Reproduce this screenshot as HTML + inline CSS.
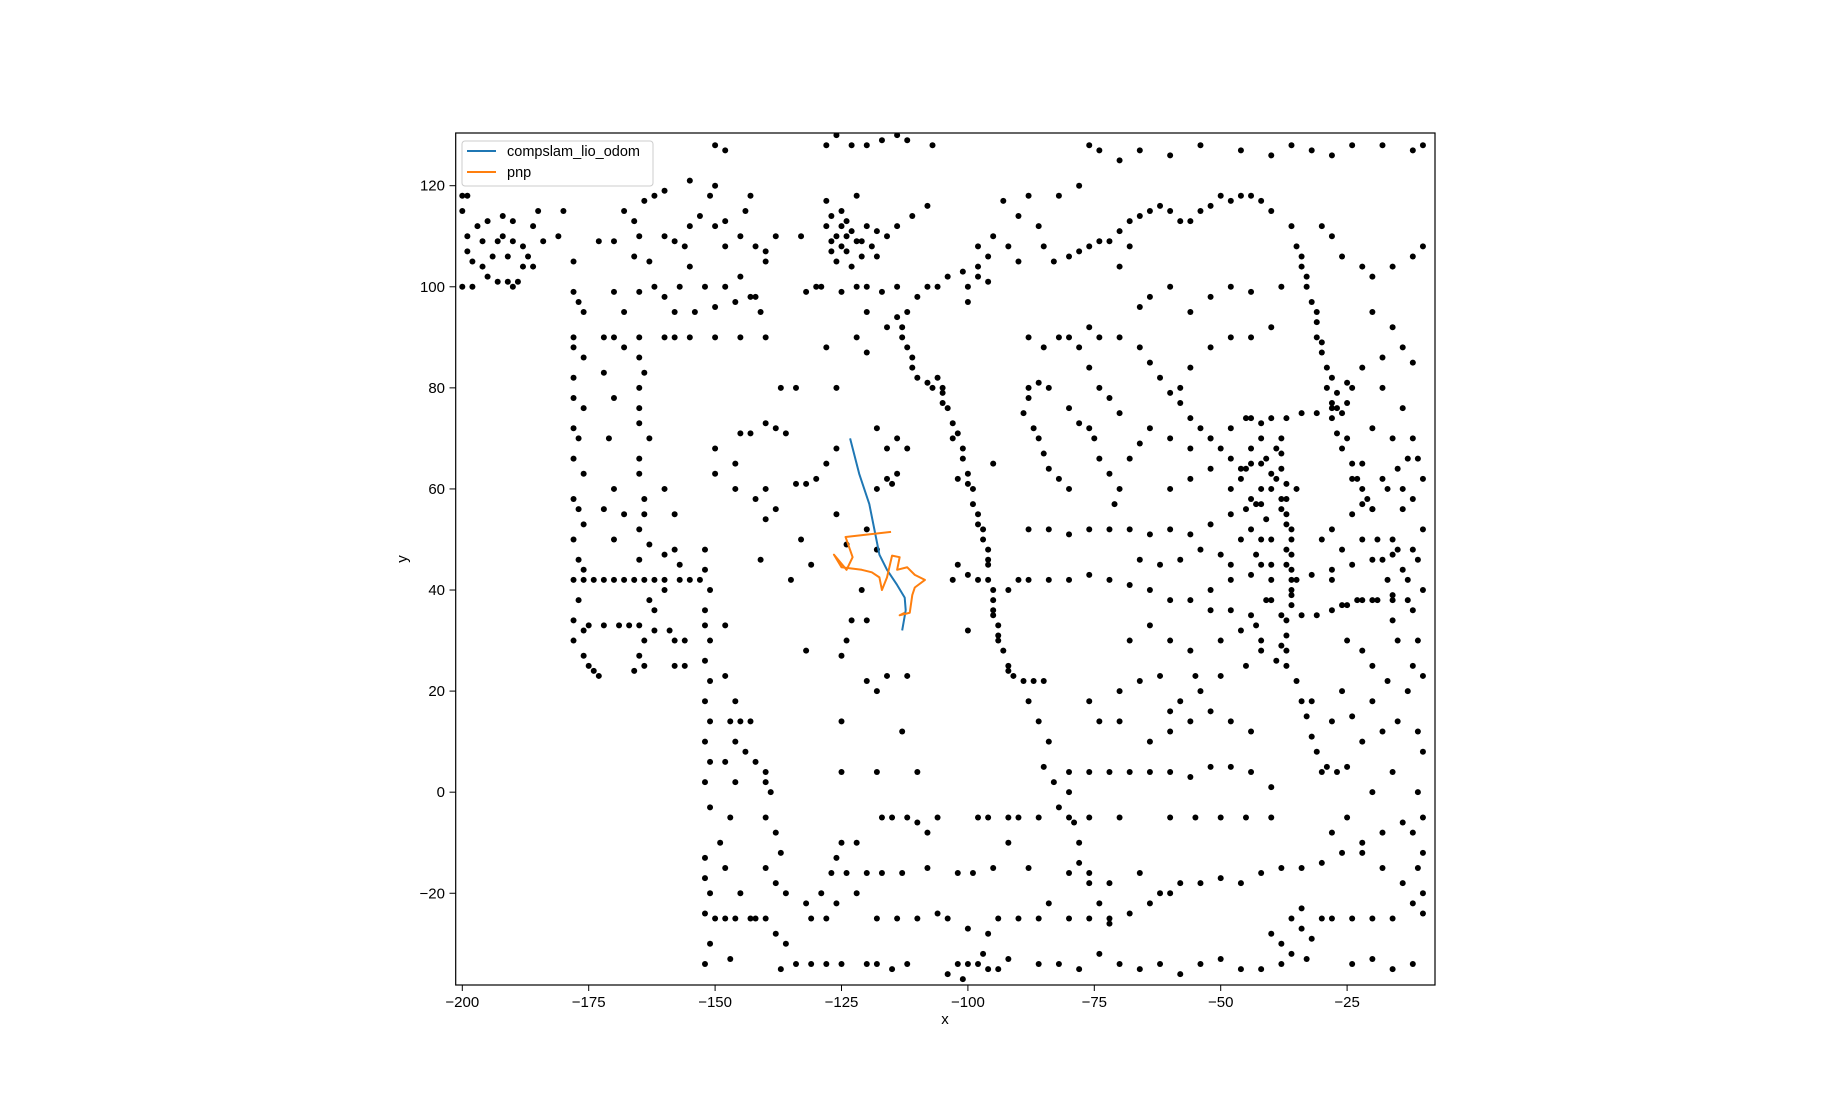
<!DOCTYPE html>
<html><head><meta charset="utf-8"><style>
html,body{margin:0;padding:0;background:#fff;}
svg{display:block;font-family:"Liberation Sans","DejaVu Sans",sans-serif;}
</style></head><body>
<svg id="chart" width="1848" height="1107" viewBox="0 0 1848 1107" xmlns="http://www.w3.org/2000/svg">
<rect x="0" y="0" width="1848" height="1107" fill="#fff"/>
<defs><clipPath id="clip"><rect x="455.7" y="133" width="979.3" height="852"/></clipPath></defs>
<g id="points" clip-path="url(#clip)"></g>
<g id="lines" clip-path="url(#clip)"></g>
<rect x="455.7" y="133" width="979.3" height="852" fill="none" stroke="#000" stroke-width="1.2"/>
<g id="xticks"></g>
<g id="yticks"></g>
<text x="945" y="1024" font-size="15" text-anchor="middle">x</text>
<text x="407" y="559" font-size="15" text-anchor="middle" transform="rotate(-90 407 559)">y</text>
<g>
<rect x="462" y="141" width="191" height="45" rx="3" fill="#fff" fill-opacity="0.8" stroke="#ccc"/>
<line x1="467" y1="151" x2="496" y2="151" stroke="#1f77b4" stroke-width="2"/>
<text x="507" y="156" font-size="14.5">compslam_lio_odom</text>
<line x1="467" y1="172" x2="496" y2="172" stroke="#ff7f0e" stroke-width="2"/>
<text x="507" y="177" font-size="14.5">pnp</text>
</g>
</svg>
<script>
const xTicks=[-200,-175,-150,-125,-100,-75,-50,-25];
const yTicks=[-20,0,20,40,60,80,100,120];
const compslamX=[-123.3,-121.5,-119.5,-118.5,-117.5,-116,-114,-112.5,-112.3,-113];
const compslamY=[70,63,57,52,47,44,41,38.5,36,32];
const pnpX=[-115.2,-124.2,-122.8,-124,-126.5,-125,-121,-119,-117.5,-117,-116,-115,-113.5,-114,-112,-110.5,-108.5,-110.5,-111,-111.5,-113.5,-112.5];
const pnpY=[51.5,50.5,46.5,44,47,44.5,44,43.5,42.5,40,42.5,46.8,46.5,44,44.5,43,42,40.5,39,35.5,35,35.5];
const mapPoints=[
[-200,118],[-199,118],[-200,115],[-197,112],[-195,113],[-196,109],[-193,109],[-192,110],[-190,109],[-188,108],[-186,112],[-185,115],[-184,109],[-199,110],[-199,107],[-198,105],[-196,104],[-195,102],[-193,101],[-191,101],[-190,100],[-189,101],[-200,100],[-188,104],[-187,106],[-191,106],[-194,106],[-198,100],[-186,104],[-192,114],[-190,113],
[-178,99],[-177,97],[-176,95],[-178,90],[-178,88],[-176,86],[-178,82],[-178,78],[-176,76],[-178,72],[-177,70],[-178,66],[-176,63],[-178,58],[-177,56],[-176,53],[-178,50],[-177,46],[-176,44],[-178,42],[-177,38],[-178,34],[-176,32],[-178,30],[-176,27],[-175,25],[-174,24],[-173,23],
[-165,90],[-165,86],[-164,83],[-165,80],[-165,76],[-165,73],[-163,70],[-165,66],[-165,63],[-164,58],[-164,55],[-165,52],[-163,49],[-165,46],[-164,42],[-163,38],[-165,33],[-164,30],[-165,27],[-164,25],[-166,24],
[-176,42],[-174,42],[-172,42],[-170,42],[-168,42],[-166,42],[-162,42],[-160,42],[-157,42],[-155,42],[-153,42],
[-175,33],[-172,33],[-169,33],[-167,33],[-162,32],[-159,32],[-156,30],
[-172,90],[-170,90],[-168,88],[-160,90],[-158,90],[-155,90],[-150,90],[-145,90],[-140,90],[-172,83],[-170,78],[-171,70],[-170,60],[-172,56],[-168,55],[-170,50],[-160,60],[-158,55],[-158,48],[-160,47],[-157,45],[-160,40],[-162,36],[-158,30],[-158,25],[-156,25],[-168,95],[-170,99],[-165,99],
[-152,48],[-152,44],[-151,40],[-152,36],[-152,33],[-151,30],[-152,26],[-151,22],[-152,18],[-151,14],[-152,10],[-151,6],[-152,2],[-151,-3],[-152,-13],[-152,-17],[-151,-20],[-152,-24],[-151,-30],[-152,-34],
[-148,33],[-148,23],[-146,18],[-147,14],[-146,10],[-148,6],[-146,2],[-147,-5],[-148,-25],[-147,-33],
[-145,14],[-143,14],[-144,8],[-142,6],[-140,4],[-140,2],[-139,0],[-140,-5],[-138,-8],[-137,-12],[-140,-15],[-138,-18],[-136,-20],[-140,-25],[-138,-28],[-136,-30],[-137,-35],[-142,-25],[-145,-20],[-148,-15],[-149,-10],
[-150,-25],[-146,-25],[-143,-25],[-131,-25],[-128,-25],[-126,-22],[-132,-22],[-129,-20],
[-134,-34],[-131,-34],[-128,-34],[-125,-34],[-120,-34],[-118,-34],[-115,-35],[-112,-34],[-102,-34],[-100,-34],[-98,-34],[-96,-35],[-101,-37],[-97,-32],[-104,-36],[-94,-35],[-92,-33],
[-127,-16],[-124,-16],[-120,-16],[-117,-16],[-113,-16],[-108,-15],[-102,-16],[-99,-16],[-95,-15],[-125,-10],[-122,-10],[-126,-13],[-122,-20],[-118,-25],[-114,-25],[-110,-25],[-106,-24],[-104,-25],[-100,-27],[-117,-5],[-115,-5],[-112,-5],[-110,-6],[-108,-8],[-106,-5],[-98,-5],[-96,-5],[-92,-5],[-90,-5],[-86,-5],
[-160,110],[-158,109],[-156,108],[-155,112],[-153,114],[-151,118],[-150,112],[-148,108],[-145,110],[-142,108],[-140,105],[-145,102],[-148,100],[-152,100],[-155,104],[-157,100],[-160,98],[-162,100],[-158,95],[-154,95],[-150,96],[-146,97],[-143,98],[-141,95],[-148,113],[-144,115],[-143,118],[-150,128],[-148,127],[-165,110],[-166,106],[-163,105],[-166,113],[-168,115],[-180,115],[-181,110],[-178,105],[-173,109],[-170,109],[-164,117],[-162,118],[-160,119],[-155,121],[-150,120],[-140,107],[-138,110],[-142,98],[-133,110],[-130,100],[-132,99],
[-128,128],[-126,130],[-123,128],[-120,128],[-117,129],[-114,130],[-112,129],[-107,128],[-128,117],[-125,115],[-122,118],[-128,112],[-126,110],[-124,110],[-122,109],[-120,112],[-118,111],[-116,110],[-114,112],[-111,114],[-108,116],[-127,107],[-124,107],[-121,106],[-118,106],[-129,100],[-125,99],[-122,100],[-120,100],[-117,99],[-114,100],[-120,95],[-116,92],[-112,95],[-110,98],[-108,100],[-106,100],[-104,102],[-101,103],[-98,104],[-96,101],
[-127,109],[-125,108],[-123,111],[-121,109],[-126,105],[-123,104],[-125,112],[-119,108],[-127,114],[-124,113],
[-114,94],[-113,92],[-113,90],[-112,88],[-111,86],[-111,84],[-110,82],[-108,81],[-107,80],[-105,80],
[-137,80],[-134,80],[-140,73],[-138,72],[-136,71],[-145,71],[-143,71],[-128,65],[-130,62],[-132,61],[-134,61],[-140,60],[-142,58],[-138,56],[-140,54],[-146,60],[-146,65],[-150,68],[-150,63],[-128,88],[-126,80],[-122,90],[-120,87],[-118,72],[-114,70],[-116,68],[-112,68],[-114,63],[-115,61],[-118,60],[-116,62],[-120,52],[-118,48],[-124,49],[-126,55],[-121,40],[-123,34],[-120,34],[-124,30],[-120,22],[-118,20],[-125,27],[-132,28],[-125,14],[-125,4],[-118,4],[-110,4],[-113,12],[-116,23],[-112,23],[-126,68],[-133,50],[-131,45],[-141,46],[-135,42],
[-106,82],[-105,79],[-104,76],[-103,73],[-102,71],[-101,68],[-101,66],[-100,63],[-99,60],[-99,57],[-98,55],[-97,52],[-97,50],[-96,48],[-96,45],[-96,42],[-95,40],[-95,38],[-95,35],[-94,33],[-94,30],[-93,28],[-92,25],[-91,23],[-89,22],[-87,22],[-85,22],[-88,18],[-86,14],[-84,10],[-85,5],[-83,2],[-80,0],[-82,-3],[-79,-6],[-78,-10],[-78,-14],[-76,-18],[-74,-22],[-72,-25],
[-105,77],[-103,70],[-100,61],[-98,53],[-96,46],[-95,36],[-94,31],[-92,24],
[-102,45],[-100,43],[-103,42],[-100,32],[-98,42],[-92,40],[-90,42],[-102,62],[-95,65],[-100,100],[-98,102],[-100,97],
[-88,118],[-86,112],[-85,108],[-83,105],[-80,106],[-78,107],[-76,108],[-74,109],[-72,109],[-70,111],[-68,113],[-66,114],[-64,115],[-62,116],[-60,115],[-58,113],[-56,113],[-54,115],[-52,116],[-50,118],[-48,117],[-46,118],[-44,118],[-42,117],[-40,115],[-76,128],[-74,127],[-70,125],[-66,127],[-60,126],[-54,128],[-46,127],[-40,126],[-36,128],[-32,127],[-28,126],[-24,128],[-18,128],[-12,127],[-10,128],[-78,120],[-82,118],[-90,114],[-93,117],[-95,110],[-92,108],[-90,105],[-96,106],[-98,108],
[-88,80],[-86,81],[-84,80],[-88,78],[-89,75],[-87,72],[-86,70],[-85,67],[-84,64],[-82,62],[-80,60],[-80,76],[-78,73],[-76,72],[-75,70],[-74,66],[-72,63],[-70,60],[-71,57],[-68,66],[-66,69],[-64,72],[-70,75],[-72,78],[-74,80],[-76,84],[-78,88],[-76,92],[-74,90],[-70,90],[-66,88],[-64,85],[-62,82],[-60,79],[-58,77],[-56,74],[-54,72],[-52,70],[-50,68],[-48,66],[-46,64],[-82,90],[-80,90],[-88,90],[-85,88],
[-88,52],[-84,52],[-80,51],[-76,52],[-72,52],[-68,52],[-64,51],[-60,52],[-56,51],[-52,53],[-48,55],[-45,56],[-42,57],[-40,60],[-38,58],[-35,60],
[-88,42],[-84,42],[-80,42],[-76,43],[-72,42],[-68,41],[-64,40],[-60,38],[-56,38],[-52,40],[-48,42],[-44,43],[-40,42],[-36,42],[-32,43],[-28,44],[-24,45],[-20,46],[-16,47],[-12,48],
[-38,70],[-38,67],[-38,64],[-37,61],[-37,58],[-37,55],[-36,52],[-36,50],[-36,47],[-36,44],[-35,42],[-36,40],[-36,37],[-37,34],[-37,31],[-37,28],[-37,25],[-35,22],[-34,18],[-33,15],[-32,11],[-31,8],[-30,4],[-29,5],[-27,4],[-25,5],
[-39,68],[-39,62],[-38,56],[-37,53],[-37,48],[-37,45],[-36,39],[-38,35],[-38,29],[-39,26],[-41,66],[-40,63],[-42,60],[-43,57],[-41,54],[-42,50],[-43,47],[-40,45],[-41,38],[-43,33],[-42,65],[-44,68],[-45,64],
[-36,112],[-35,108],[-34,104],[-33,100],[-32,97],[-31,93],[-31,90],[-30,87],[-29,84],[-29,80],[-28,77],[-28,74],[-27,71],[-26,68],[-24,65],[-23,62],[-22,60],[-21,58],[-20,56],[-19,50],[-18,46],[-17,42],[-16,38],[-16,34],[-15,30],
[-34,106],[-33,102],[-31,95],[-30,89],[-28,82],[-27,76],[-25,70],[-24,62],[-22,57],[-26,75],[-27,79],[-25,81],
[-45,74],[-42,73],[-40,74],[-37,74],[-34,75],[-31,75],[-28,76],[-25,77],
[-34,35],[-31,35],[-28,36],[-25,37],[-22,38],[-19,38],[-16,39],[-13,38],[-26,37],[-23,38],[-20,38],
[-40,-28],[-38,-30],[-36,-25],[-34,-27],[-32,-29],[-36,-32],[-33,-33],[-38,-34],[-42,-35],[-30,-25],[-34,-23],
[-12,70],[-11,66],[-10,62],[-12,58],[-10,52],[-11,46],[-10,40],[-12,36],[-11,30],[-12,25],[-10,23],[-13,20],[-11,12],[-10,8],[-11,0],[-10,-5],[-12,-8],[-10,-12],[-11,-15],[-10,-20],[-12,-22],[-10,-24],
[-14,44],[-15,48],[-13,42],[-16,50],[-14,56],[-17,60],[-15,64],[-13,66],
[-80,4],[-76,4],[-72,4],[-68,4],[-64,4],[-60,4],[-56,3],[-52,5],[-48,5],[-44,4],[-40,1],[-64,10],[-60,12],[-56,14],[-52,16],[-48,14],[-44,12],[-70,14],[-74,14],[-76,18],[-70,20],[-66,22],[-62,23],[-55,23],[-50,23],[-45,25],[-42,28],[-80,-5],[-76,-5],[-70,-5],[-60,-5],[-55,-5],[-50,-5],[-45,-5],[-40,-5],[-80,-16],[-76,-16],[-72,-18],[-66,-16],[-62,-20],[-58,-18],[-54,-18],[-50,-17],[-46,-18],[-42,-16],[-38,-15],[-34,-15],[-30,-14],[-26,-12],[-22,-10],[-18,-8],[-14,-6],[-80,-25],[-76,-25],[-72,-26],[-68,-24],[-64,-22],[-60,-20],[-86,-34],[-82,-34],[-78,-35],[-74,-32],[-70,-34],[-66,-35],[-62,-34],[-58,-36],[-54,-34],[-50,-33],[-46,-35],[-28,-25],[-24,-25],[-20,-25],[-16,-25],[-24,-34],[-20,-33],[-16,-35],[-12,-34],[-88,-15],[-92,-10],[-90,-25],[-86,-25],[-84,-22],[-94,-25],[-96,-28],
[-68,30],[-64,33],[-60,30],[-56,28],[-50,30],[-46,32],[-42,30],[-66,46],[-62,45],[-58,46],[-54,48],[-50,47],[-46,50],[-44,52],[-60,60],[-56,62],[-52,64],[-48,60],[-44,58],[-60,70],[-56,68],[-52,70],[-48,72],[-44,74],[-58,80],[-56,84],[-52,88],[-48,90],[-44,90],[-40,92],[-56,95],[-52,98],[-48,100],[-44,99],[-38,100],[-60,100],[-64,98],[-66,96],[-70,104],[-68,108],[-30,112],[-28,110],[-26,106],[-22,104],[-20,102],[-16,104],[-12,106],[-10,108],[-20,95],[-16,92],[-14,88],[-12,85],[-18,86],[-22,84],[-24,80],[-18,80],[-14,76],[-20,72],[-16,70],[-22,65],[-18,62],[-14,60],[-20,56],[-24,55],[-28,52],[-30,50],[-26,48],[-22,50],[-28,42],[-25,30],[-22,28],[-20,25],[-17,22],[-20,18],[-24,15],[-28,14],[-32,18],[-26,20],[-22,10],[-18,12],[-15,14],[-16,4],[-20,0],[-25,-5],[-28,-8],[-22,-12],[-18,-15],[-14,-18],[-42,70],[-44,65],[-46,62],[-48,45],[-42,45],[-40,50],[-40,38],[-44,35],[-48,36],[-52,36],[-54,20],[-58,18],[-60,16]
];
const NS='http://www.w3.org/2000/svg';
const X0=462.3, XS=5.056, Y0=185.7, YS=5.054;
function sx(x){return X0+(x+200)*XS;}
function sy(y){return Y0+(120-y)*YS;}
const gp=document.getElementById('points');
mapPoints.forEach(function(p,i){
  const c=document.createElementNS(NS,'circle');
  c.setAttribute('cx',sx(p[0]));c.setAttribute('cy',sy(p[1]));c.setAttribute('r',3);c.setAttribute('fill','#000');
  
  
  gp.appendChild(c);
});
function poly(xs,ys,color,name){
  const pl=document.createElementNS(NS,'polyline');
  pl.setAttribute('points',xs.map(function(x,i){return sx(x)+','+sy(ys[i]);}).join(' '));
  pl.setAttribute('fill','none');pl.setAttribute('stroke',color);pl.setAttribute('stroke-width','2');pl.setAttribute('stroke-linejoin','round');
  
  
  document.getElementById('lines').appendChild(pl);
}
poly(compslamX,compslamY,'#1f77b4','compslam-line');
poly(pnpX,pnpY,'#ff7f0e','pnp-line');
const gx=document.getElementById('xticks');
xTicks.forEach(function(t){
  const x=sx(t);
  const l=document.createElementNS(NS,'line');
  l.setAttribute('x1',x);l.setAttribute('x2',x);l.setAttribute('y1',985);l.setAttribute('y2',991);l.setAttribute('stroke','#000');
  
  
  gx.appendChild(l);
  const tx=document.createElementNS(NS,'text');
  tx.setAttribute('x',x);tx.setAttribute('y',1007);tx.setAttribute('font-size','15');tx.setAttribute('text-anchor','middle');
  tx.textContent=(t<0?'\u2212'+(-t):t);
  
  
  gx.appendChild(tx);
});
const gy=document.getElementById('yticks');
yTicks.forEach(function(t){
  const y=sy(t);
  const l=document.createElementNS(NS,'line');
  l.setAttribute('x1',449.5);l.setAttribute('x2',455.7);l.setAttribute('y1',y);l.setAttribute('y2',y);l.setAttribute('stroke','#000');
  
  
  gy.appendChild(l);
  const tx=document.createElementNS(NS,'text');
  tx.setAttribute('x',445);tx.setAttribute('y',y+5);tx.setAttribute('font-size','15');tx.setAttribute('text-anchor','end');
  tx.textContent=(t<0?'\u2212'+(-t):t);
  
  
  gy.appendChild(tx);
});
</script>
</body></html>
